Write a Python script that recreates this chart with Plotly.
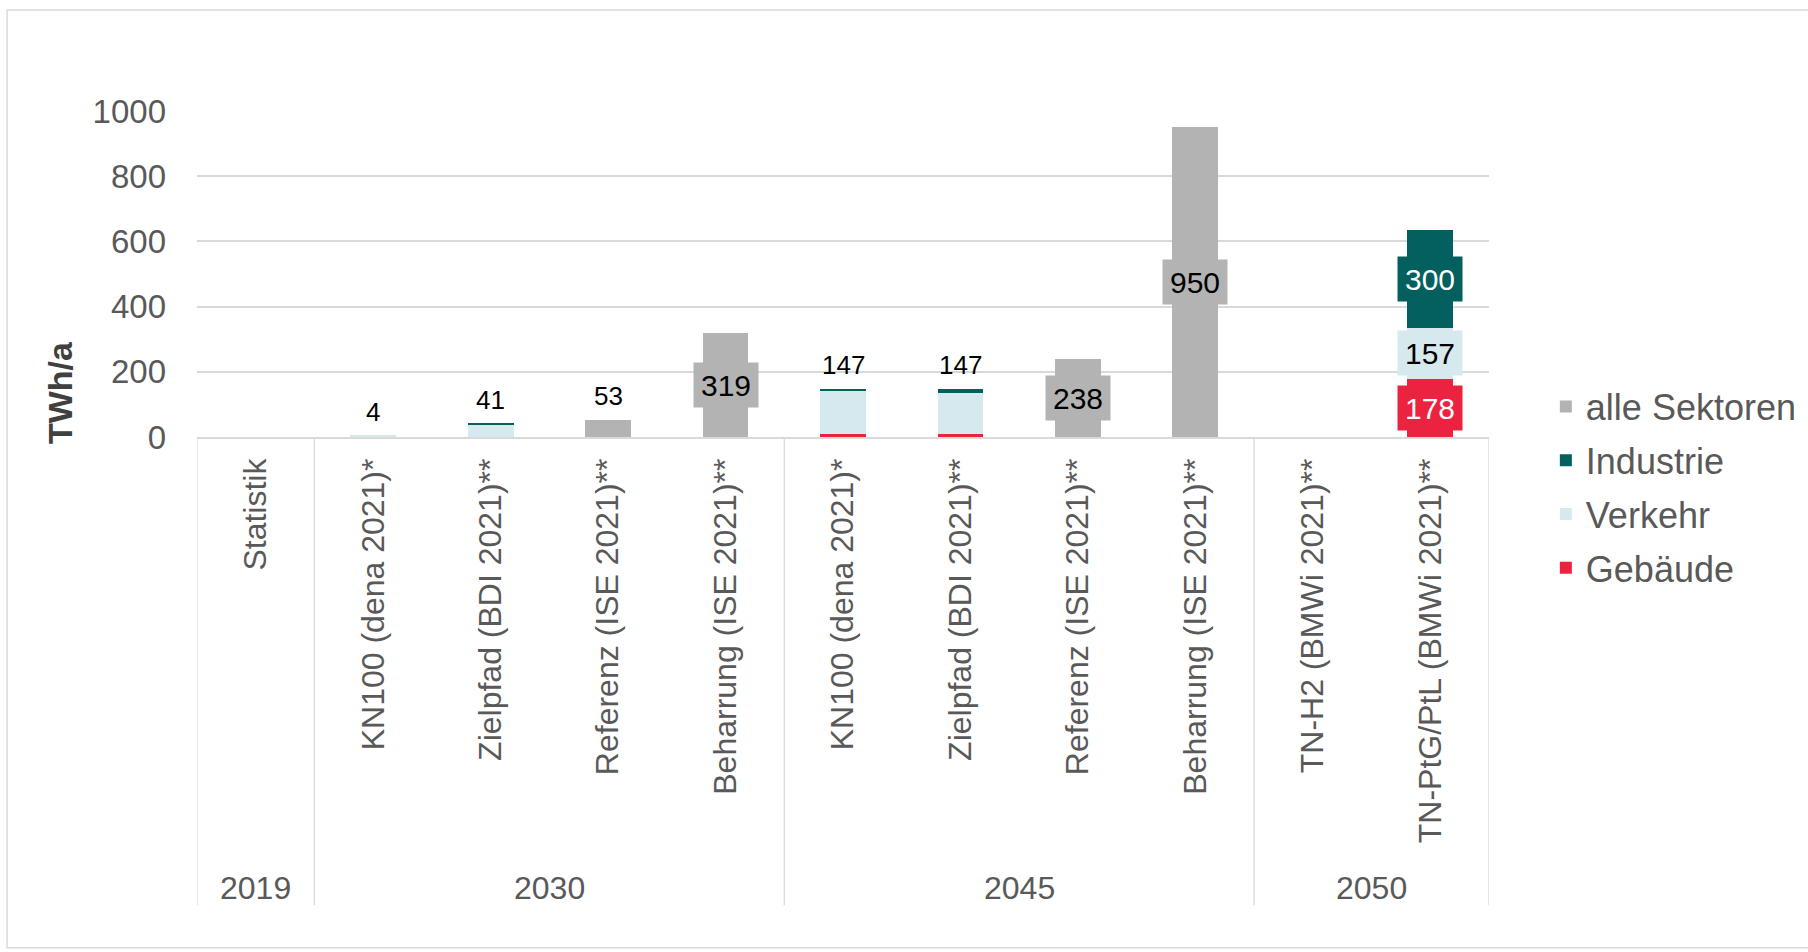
import plotly.graph_objects as go

# ---------------- data ----------------
categories = ["Statistik",
              "KN100 (dena 2021)*", "Zielpfad (BDI 2021)**", "Referenz (ISE 2021)**", "Beharrung (ISE 2021)**",
              "KN100 (dena 2021)*", "Zielpfad (BDI 2021)**", "Referenz (ISE 2021)**", "Beharrung (ISE 2021)**",
              "TN-H2 (BMWi 2021)**", "TN-PtG/PtL (BMWi 2021)**"]
years = ["2019", "2030", "2030", "2030", "2030", "2045", "2045", "2045", "2045", "2050", "2050"]

gebaeude = [None, None, None, None, None, 8, 8, None, None, None, 178]
verkehr = [None, 4, 38, None, None, 134, 128, None, None, None, 157]
industrie = [None, None, 3, None, None, 5, 11, None, None, None, 300]
alle_sektoren = [None, None, None, 53, 319, None, None, 238, 950, None, None]

series = [
    ("Gebäude", gebaeude, "#EC2340", "white"),
    ("Verkehr", verkehr, "#D6E9EF", "black"),
    ("Industrie", industrie, "#03605F", "white"),
    ("alle Sektoren", alle_sektoren, "#B3B3B3", "black"),
]

FONT = "Liberation Sans, Arial, sans-serif"
GRID = "#D9D9D9"
TXT = "#595959"

xs = list(range(len(categories)))

fig = go.Figure()
for k, (name, vals, color, _) in enumerate(series):
    fig.add_trace(go.Bar(x=xs, y=vals, name=name, legendgroup=name, legendrank=100 + len(series) - k,
                         marker=dict(color=color, line=dict(width=0)), hoverinfo="name+y"))

annotations = []
# data labels
BOX_MIN = 150
for i in xs:
    base = 0
    total = 0
    boxed_any = False
    for name, vals, color, tcol in series:
        v = vals[i]
        if v is None:
            continue
        if v >= BOX_MIN:
            boxed_any = True
            annotations.append(dict(x=i, y=base + v / 2, xref="x", yref="y", text=str(v), showarrow=False,
                                    font=dict(family=FONT, size=30, color=tcol), bgcolor=color,
                                    width=60, height=40, borderpad=2, xanchor="center", yanchor="middle"))
        base += v
        total += v
    if total > 0 and not boxed_any:
        annotations.append(dict(x=i, y=total, xref="x", yref="y", text=str(total), showarrow=False,
                                font=dict(family=FONT, size=26, color="black"),
                                xanchor="center", yanchor="bottom", yshift=7))

# group (year) labels and dividers
groups = []
for i, y in enumerate(years):
    if not groups or groups[-1][0] != y:
        groups.append([y, i, i])
    else:
        groups[-1][2] = i

shapes = []
for y, s, e in groups:
    annotations.append(dict(x=(s + e) / 2, y=-1.383, xref="x", yref="paper", text=y, showarrow=False,
                            font=dict(family=FONT, size=32, color=TXT), xanchor="center", yanchor="middle"))
bounds = [groups[0][1] - 0.5] + [e + 0.5 for _, _, e in groups]
for b in bounds:
    shapes.append(dict(type="line", xref="x", yref="paper", x0=b, x1=b, y0=0, y1=-1.436,
                       line=dict(color=GRID, width=1.3)))

# outer chart frame
shapes.append(dict(type="rect", xref="paper", yref="paper", x0=-0.147, x1=1.26, y0=-1.567, y1=1.31,
                   line=dict(color=GRID, width=1.5), fillcolor="rgba(0,0,0,0)", layer="below"))

# y-axis title
annotations.append(dict(x=-0.106, y=0.135, xref="paper", yref="paper", text="<b>TWh/a</b>", showarrow=False,
                        textangle=-90, font=dict(family=FONT, size=34, color="#404040"),
                        xanchor="center", yanchor="middle"))

fig.update_layout(
    width=1808, height=952,
    margin=dict(l=197, r=319, t=111, b=515, autoexpand=False),
    paper_bgcolor="white", plot_bgcolor="white",
    barmode="stack", bargap=0.61,
    font=dict(family=FONT, color=TXT),
    showlegend=True,
    legend=dict(x=1.044, xanchor="left", y=-0.155, yanchor="middle", traceorder="grouped",
                tracegroupgap=4,
                font=dict(family=FONT, size=36, color=TXT), bgcolor="rgba(0,0,0,0)"),
    annotations=annotations,
    shapes=shapes,
)
fig.update_xaxes(type="linear", range=[-0.5, len(categories) - 0.5], tickmode="array", tickvals=xs,
                 ticktext=categories, tickangle=-90, showgrid=False, zeroline=False,
                 showline=True, linecolor=GRID, linewidth=1.5, ticks="",
                 tickfont=dict(family=FONT, size=32, color=TXT), ticklabelstandoff=7)
fig.update_yaxes(range=[0, 1000], dtick=200, showgrid=True, gridcolor=GRID, gridwidth=1.5,
                 zeroline=False, showline=False, ticks="",
                 tickfont=dict(family=FONT, size=33, color=TXT), ticklabelstandoff=30)

fig.write_html("out.html", config={"displayModeBar": False},
               post_script="document.body.style.margin='0';document.body.style.overflow='hidden';")
